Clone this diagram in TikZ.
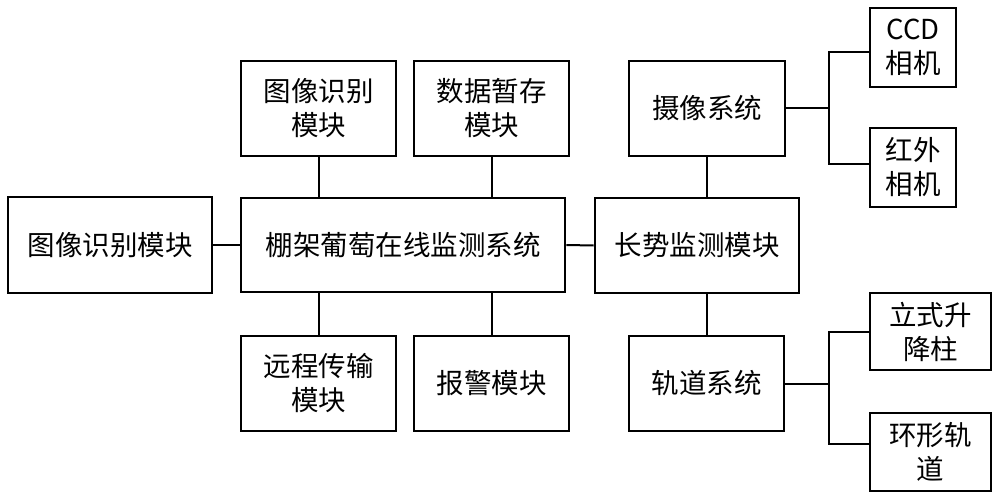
\documentclass[tikz,border=0pt]{standalone}
\usepackage{fontspec}
\newfontfamily\cjk{Noto Sans CJK SC}
\begin{document}
\begin{tikzpicture}[x=1pt,y=-1pt,
  box/.style={draw, line width=2.6pt, inner sep=0pt, align=center,
    font=\cjk\fontsize{27.5}{34}\selectfont, minimum width=155pt, minimum height=95pt},
  link/.style={line width=2pt}]
\useasboundingbox (0,0) rectangle (1000,500);
\node[box, minimum width=204pt, minimum height=96pt] (L) at (110,245) {图像识别模块};
\node[box, minimum width=324pt, minimum height=94pt] (C) at (403,245) {棚架葡萄在线监测系统};
\node[box] (T1) at (318.5,108.5) {图像识别\\模块};
\node[box] (T2) at (491.5,108.5) {数据暂存\\模块};
\node[box] (B1) at (318.5,383.5) {远程传输\\模块};
\node[box] (B2) at (491.5,383.5) {报警模块};
\node[box, minimum width=204pt] (G) at (697,245.5) {长势监测模块};
\node[box, minimum width=156pt] (S) at (707,108.5) {摄像系统};
\node[box] (R) at (706.5,383.5) {轨道系统};
\node[box, minimum width=86pt, minimum height=79pt] (CCD) at (913,47.5) {CCD\\相机};
\node[box, minimum width=86pt, minimum height=79pt] (IR) at (913,167.5) {红外\\相机};
\node[box, minimum width=121pt, minimum height=77pt] (P) at (930.5,331.5) {立式升\\降柱};
\node[box, minimum width=121pt, minimum height=78pt] (H) at (930.5,452) {环形轨\\道};
\draw[link] (L.east) -- (C.west);
\draw[link] (C.east) -- (G.west);
\draw[link] (T1.south) -- (T1.south |- C.north);
\draw[link] (T2.south) -- (T2.south |- C.north);
\draw[link] (B1.north) -- (B1.north |- C.south);
\draw[link] (B2.north) -- (B2.north |- C.south);
\draw[link] (S.south) -- (S.south |- G.north);
\draw[link] (R.north) -- (R.north |- G.south);
\draw[link] (S.east) -- ++(43,0) coordinate (sj);
\draw[link] ([yshift=-4.5pt]CCD.west) -| (sj) |- ([yshift=3.5pt]IR.west);
\draw[link] (R.east) -- ++(44,0) coordinate (rj);
\draw[link] ([yshift=-0.5pt]P.west) -| (rj) |- ([yshift=8pt]H.west);
\end{tikzpicture}
\end{document}
